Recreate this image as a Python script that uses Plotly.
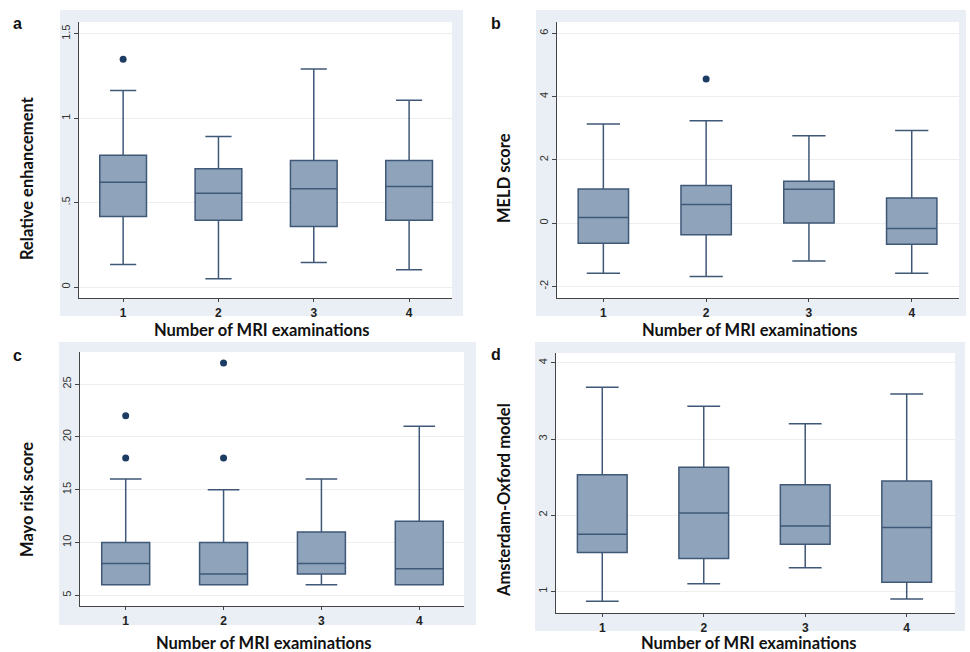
import plotly.graph_objects as go

# ---------------- data ----------------
groups = [1, 2, 3, 4]
x_title = "Number of MRI examinations"

# panel a: Relative enhancement
re_low = [0.134, 0.049, 0.146, 0.102]
re_q1 = [0.418, 0.395, 0.359, 0.396]
re_med = [0.62, 0.556, 0.582, 0.596]
re_q3 = [0.78, 0.70, 0.75, 0.75]
re_high = [1.164, 0.892, 1.292, 1.107]
re_out_x = [1]
re_out_y = [1.35]

# panel b: MELD score
meld_low = [-1.59, -1.69, -1.2, -1.59]
meld_q1 = [-0.64, -0.37, 0.0, -0.67]
meld_med = [0.18, 0.59, 1.07, -0.17]
meld_q3 = [1.076, 1.19, 1.32, 0.79]
meld_high = [3.13, 3.24, 2.76, 2.93]
meld_out_x = [2]
meld_out_y = [4.56]

# panel c: Mayo risk score
mayo_low = [6, 6, 6, 6]
mayo_q1 = [6, 6, 7, 6]
mayo_med = [8, 7, 8, 7.5]
mayo_q3 = [10, 10, 11, 12]
mayo_high = [16, 15, 16, 21]
mayo_out_x = [1, 1, 2, 2]
mayo_out_y = [18, 22, 18, 27]

# panel d: Amsterdam-Oxford model
ao_low = [0.87, 1.10, 1.31, 0.90]
ao_q1 = [1.51, 1.43, 1.62, 1.12]
ao_med = [1.75, 2.03, 1.86, 1.84]
ao_q3 = [2.53, 2.63, 2.40, 2.45]
ao_high = [3.68, 3.43, 3.20, 3.59]

# tick labels
a_ticks = [0, 0.5, 1, 1.5]
a_ticktext = ["0", ".5", "1", "1.5"]
b_ticks = [-2, 0, 2, 4, 6]
b_ticktext = ["-2", "0", "2", "4", "6"]
c_ticks = [5, 10, 15, 20, 25]
c_ticktext = ["5", "10", "15", "20", "25"]
d_ticks = [1, 2, 3, 4]
d_ticktext = ["1", "2", "3", "4"]

# ---------------- style ----------------
W, H = 970, 652
FILL = "#8fa4bb"
LINE = "#3f5877"
DOT = "#1d3c63"
PANEL_BG = "#e9eff4"
GRID = "#eeeeee"
TITLE_FONT = dict(family="Lato, Open Sans, sans-serif", size=16.5, color="#111111")


def px_x(v):
    return v / W


def px_y(v):
    return 1 - v / H


fig = go.Figure()

panels = [
    ("", re_low, re_q1, re_med, re_q3, re_high, re_out_x, re_out_y,
     [0.537, 4.45], [-0.065, 1.57], a_ticks, a_ticktext,
     (79, 22, 452, 298), (60, 10, 463, 316), 0.56),
    ("2", meld_low, meld_q1, meld_med, meld_q3, meld_high, meld_out_x, meld_out_y,
     [0.549, 4.46], [-2.37, 6.36], b_ticks, b_ticktext,
     (557, 22, 959, 298), (536, 10, 966, 316), 0.66),
    ("3", mayo_low, mayo_q1, mayo_med, mayo_q3, mayo_high, mayo_out_x, mayo_out_y,
     [0.533, 4.457], [3.98, 28.04], c_ticks, c_ticktext,
     (80, 352, 464, 606), (59, 342, 476, 625), 0.66),
    ("4", ao_low, ao_q1, ao_med, ao_q3, ao_high, [], [],
     [0.544, 4.476], [0.716, 4.13], d_ticks, d_ticktext,
     (556, 353, 955, 613), (535, 342, 965, 631), 0.66),
]

shapes = []
layout_axes = {}
for (sfx, low, q1, med, q3, high, ox, oy, xr, yr, tv, tt, pb, ob, ww) in panels:
    xa = "x" + sfx
    ya = "y" + sfx
    fig.add_trace(go.Box(
        x=groups, q1=q1, median=med, q3=q3, lowerfence=low, upperfence=high,
        width=0.49, whiskerwidth=ww, fillcolor=FILL,
        line=dict(color=LINE, width=1.5), boxpoints=False,
        xaxis=xa, yaxis=ya, showlegend=False, hoverinfo="skip",
    ))
    if ox:
        fig.add_trace(go.Scatter(
            x=ox, y=oy, mode="markers", marker=dict(color=DOT, size=7),
            xaxis=xa, yaxis=ya, showlegend=False, hoverinfo="skip",
        ))
    shapes.append(dict(type="rect", xref="paper", yref="paper", layer="below",
                       x0=px_x(ob[0]), x1=px_x(ob[2]), y0=px_y(ob[3]), y1=px_y(ob[1]),
                       fillcolor=PANEL_BG, line=dict(width=0)))
    shapes.append(dict(type="rect", xref="paper", yref="paper", layer="below",
                       x0=px_x(pb[0]), x1=px_x(pb[2]), y0=px_y(pb[3]), y1=px_y(pb[1]),
                       fillcolor="white", line=dict(width=0)))
    layout_axes["xaxis" + sfx] = dict(
        domain=[px_x(pb[0]), px_x(pb[2])], anchor=ya, range=xr,
        tickvals=groups, ticktext=["<b>%d</b>" % g for g in groups],
        showgrid=False, zeroline=False, showline=True, linecolor="#444444", linewidth=1.2,
        ticks="outside", ticklen=3, tickcolor="#444444",
        tickfont=dict(family="Liberation Sans, Arial, sans-serif", size=12, color="#222222"),
        fixedrange=True,
    )
    layout_axes["yaxis" + sfx] = dict(
        domain=[px_y(pb[3]), px_y(pb[1])], anchor=xa, range=yr,
        tickvals=tv, ticktext=tt, tickangle=-90,
        showgrid=True, gridcolor=GRID, gridwidth=1, zeroline=False,
        showline=True, linecolor="#444444", linewidth=1.2,
        ticks="outside", ticklen=4, tickcolor="#444444",
        tickfont=dict(family="Liberation Sans, Arial, sans-serif", size=11, color="#333333"),
        fixedrange=True,
    )

annotations = []
for letter, (lx, ly) in zip(["a", "b", "c", "d"], [(17, 23), (496, 23), (17, 355), (496, 354)]):
    annotations.append(dict(text="<b>%s</b>" % letter, x=px_x(lx), y=px_y(ly), xref="paper", yref="paper",
                            showarrow=False, xanchor="center", yanchor="middle",
                            font=dict(family="Liberation Sans, Arial, sans-serif", size=16, color="#111111")))
for txt, (tx, ty) in zip(["Relative enhancement", "MELD score", "Mayo risk score", "Amsterdam-Oxford model"],
                         [(27, 178), (504, 178), (27, 500), (504, 500)]):
    annotations.append(dict(text="<b>%s</b>" % txt, x=px_x(tx), y=px_y(ty), xref="paper", yref="paper",
                            showarrow=False, textangle=-90, xanchor="center", yanchor="middle",
                            font=TITLE_FONT))
for (tx, ty) in [(262, 330), (750, 330), (264, 643), (749, 643)]:
    annotations.append(dict(text="<b>%s</b>" % x_title, x=px_x(tx), y=px_y(ty), xref="paper", yref="paper",
                            showarrow=False, xanchor="center", yanchor="middle", font=TITLE_FONT))

fig.update_layout(
    width=W, height=H, margin=dict(l=0, r=0, t=0, b=0),
    paper_bgcolor="white", plot_bgcolor="rgba(0,0,0,0)",
    shapes=shapes, annotations=annotations, **layout_axes,
)

fig.write_html(
    "out.html",
    config={"displayModeBar": False},
    post_script="document.body.style.margin='0';document.body.style.overflow='hidden';",
)
